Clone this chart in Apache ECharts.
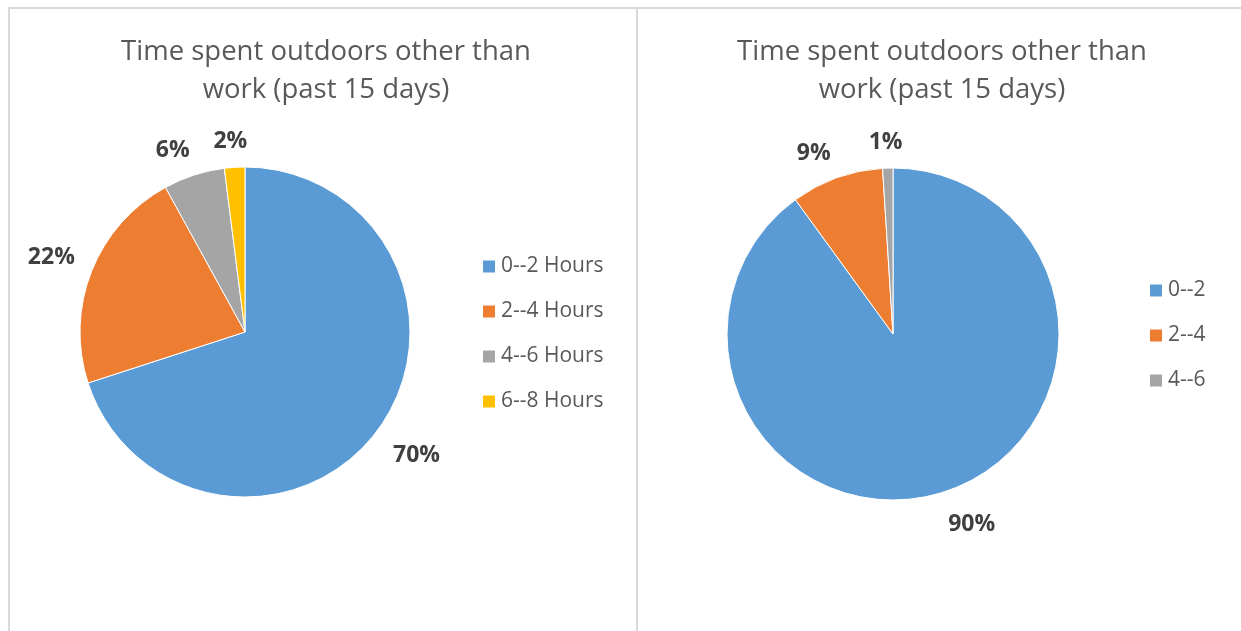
<!DOCTYPE html>
<html>
<head>
<meta charset="utf-8">
<script src="https://cdn.jsdelivr.net/npm/echarts@6/dist/echarts.min.js"></script>
<style>
html,body{margin:0;padding:0;background:#fff;}
#c{width:1241px;height:631px;}
</style>
</head>
<body>
<div id="c"></div>
<script>
const chartTitle = 'Time spent outdoors other than\nwork (past 15 days)';
const leftCategories = ['0--2 Hours', '2--4 Hours', '4--6 Hours', '6--8 Hours'];
const leftValues = [70, 22, 6, 2];
const rightCategories = ['0--2', '2--4', '4--6'];
const rightValues = [90, 9, 1];
const sliceColors = ['#5B9BD5', '#ED7D31', '#A5A5A5', '#FFC000'];

const FONT = '"Open Sans", "Noto Sans", sans-serif';

const pies = [
  { cats: leftCategories, vals: leftValues, center: [245, 332], radius: 165 },
  { cats: rightCategories, vals: rightValues, center: [893, 334], radius: 166 }
];
const LABEL_GAP = 18;
const LABEL_BASELINE_SHIFT = 4;

function makeData(cats, vals) {
  return cats.map((c, i) => ({ name: c, value: vals[i], itemStyle: { color: sliceColors[i] } }));
}

// Place each label so its box sits just outside the slice's mid-angle edge (Excel "best fit" look)
function labelLayoutFor(p) {
  return function (params) {
    const vals = p.vals;
    const total = vals.reduce((a, b) => a + b, 0);
    let before = 0;
    for (let i = 0; i < params.dataIndex; i++) before += vals[i];
    const midFrac = (before + vals[params.dataIndex] / 2) / total;
    const ang = Math.PI / 2 - midFrac * 2 * Math.PI;
    const dx = Math.cos(ang), dy = -Math.sin(ang);
    const rr = p.radius + LABEL_GAP;
    const w = params.labelRect.width, h = params.labelRect.height;
    const clamp = t => Math.max(-1, Math.min(1, t));
    const x = p.center[0] + rr * dx + clamp(dx * 3) * w / 2;
    const y = p.center[1] + rr * dy + clamp(dy * 3) * h / 2 + LABEL_BASELINE_SHIFT;
    return { x: x, y: y, align: 'center', verticalAlign: 'middle' };
  };
}

function pieSeries(p) {
  return {
    type: 'pie',
    center: p.center,
    radius: p.radius,
    startAngle: 90,
    clockwise: true,
    avoidLabelOverlap: false,
    data: makeData(p.cats, p.vals),
    itemStyle: { borderColor: '#fff', borderWidth: 1 },
    label: {
      show: true,
      position: 'outside',
      formatter: d => Math.round(d.value) + '%',
      fontFamily: FONT,
      fontWeight: 'bold',
      fontSize: 23,
      color: '#404040'
    },
    labelLine: { show: false },
    labelLayout: labelLayoutFor(p),
    emphasis: { disabled: true },
    animation: false
  };
}

const chart = echarts.init(document.getElementById('c'), null, { renderer: 'canvas' });
chart.setOption({
  animation: false,
  backgroundColor: '#fff',
  graphic: [
    { type: 'line', shape: { x1: 8, y1: 8, x2: 1241, y2: 8 }, style: { stroke: '#d9d9d9', lineWidth: 2 } },
    { type: 'line', shape: { x1: 9, y1: 8, x2: 9, y2: 631 }, style: { stroke: '#d9d9d9', lineWidth: 2 } },
    { type: 'line', shape: { x1: 637, y1: 8, x2: 637, y2: 631 }, style: { stroke: '#d9d9d9', lineWidth: 2 } }
  ],
  title: [
    { text: chartTitle, left: 326, top: 33, textAlign: 'center', padding: 0,
      textStyle: { fontFamily: FONT, fontSize: 27.5, fontWeight: 'normal', color: '#595959', lineHeight: 38 } },
    { text: chartTitle, left: 942, top: 33, textAlign: 'center', padding: 0,
      textStyle: { fontFamily: FONT, fontSize: 27.5, fontWeight: 'normal', color: '#595959', lineHeight: 38 } }
  ],
  legend: [
    { orient: 'vertical', left: 481, top: 256, padding: 0, itemWidth: 14, itemHeight: 14, itemGap: 24, icon: 'rect',
      data: leftCategories,
      textStyle: { fontFamily: FONT, fontSize: 21, color: '#595959' }, selectedMode: false },
    { orient: 'vertical', left: 1148, top: 280, padding: 0, itemWidth: 14, itemHeight: 14, itemGap: 24, icon: 'rect',
      data: rightCategories,
      textStyle: { fontFamily: FONT, fontSize: 21, color: '#595959' }, selectedMode: false }
  ],
  series: pies.map(pieSeries)
});
</script>
</body>
</html>
